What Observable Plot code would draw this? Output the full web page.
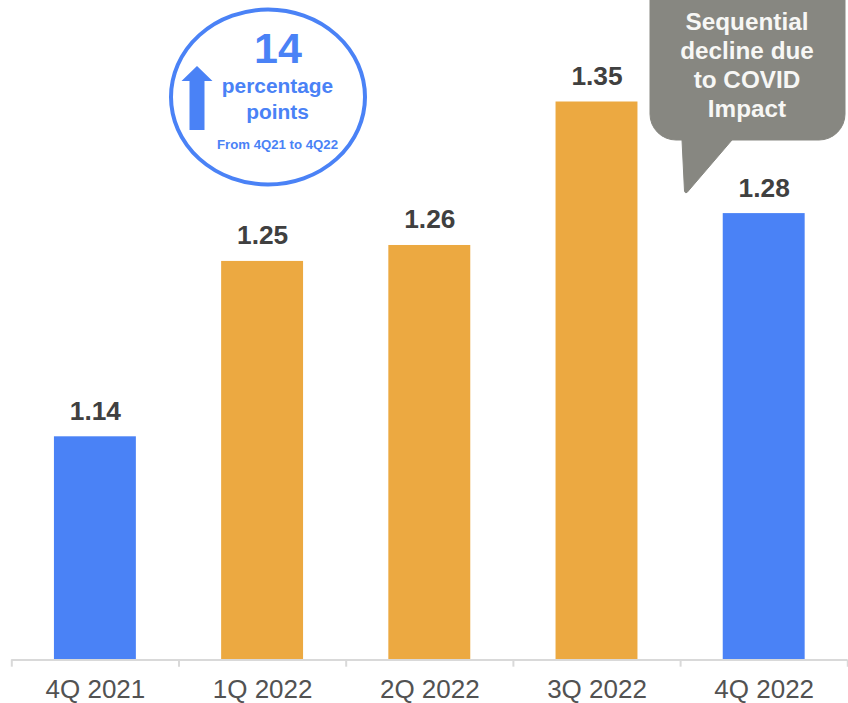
<!DOCTYPE html>
<html>
<head>
<meta charset="utf-8">
<script src="https://cdn.jsdelivr.net/npm/d3@7"></script>
<script src="https://cdn.jsdelivr.net/npm/@observablehq/plot@0.6"></script>
<style>
  html, body { margin: 0; padding: 0; background: #fff; }
  svg { display: block; }
</style>
</head>
<body>
<div id="chart"></div>
<script>
const quarters = ["4Q 2021", "1Q 2022", "2Q 2022", "3Q 2022", "4Q 2022"];
const values = [1.14, 1.25, 1.26, 1.35, 1.28];
const endpoints = ["4Q 2021", "4Q 2022"];
const calloutLines = ["Sequential", "decline due", "to COVID", "Impact"];

const rows = quarters.map((quarter, i) => ({quarter, value: values[i]}));
const BLUE = "#4a82f6";
const ORANGE = "#eca941";
const GREY = "#878781";
const FONT = "'Liberation Sans', Arial, sans-serif";
const BASE = 1.0;
const halfStep = 83.6;

// Badge in the upper left: ellipse, up arrow and the change in percentage points.
function badge() {
  const g = d3.create("svg:g").attr("font-family", FONT).attr("font-weight", "bold").attr("fill", BLUE).attr("text-anchor", "middle");
  g.append("ellipse").attr("cx", 268).attr("cy", 97).attr("rx", 97).attr("ry", 87.5)
    .attr("fill", "none").attr("stroke", BLUE).attr("stroke-width", 4);
  g.append("path").attr("d", "M197 66L212.5 81H204.5V130H189.5V81H181.5Z");
  const lines = [["14", 278, 63, 43], ["percentage", 277.5, 93, 20.9], ["points", 277.5, 119, 20.9], ["From 4Q21 to 4Q22", 277.5, 148.5, 13.2]];
  for (const [t, x, y, size] of lines) {
    g.append("text").attr("x", x).attr("y", y).attr("font-size", size).text(t);
  }
  return g.node();
}

// Speech bubble pointing at the last bar; its top runs off the frame.
function bubble() {
  const g = d3.create("svg:g").attr("font-family", FONT).attr("font-weight", "bold").attr("text-anchor", "middle");
  g.append("path").attr("fill", GREY).attr("stroke", GREY).attr("stroke-linejoin", "round").attr("stroke-width", 1)
    .attr("d", "M650 -20H845V114A26 26 0 0 1 819 140H732L687 192.5Q685 193.5 684.5 191L682 140H676A26 26 0 0 1 650 114Z");
  calloutLines.forEach((t, i) => {
    g.append("text").attr("x", 747).attr("y", 30 + i * 28.9).attr("font-size", 24.3).attr("fill", "#f7f7f5").text(t);
  });
  return g.node();
}

const chart = Plot.plot({
  width: 848,
  height: 703,
  marginTop: 0,
  marginRight: 0.7,
  marginBottom: 43.5,
  marginLeft: 11.3,
  style: {background: "#fff", fontFamily: FONT},
  x: {domain: quarters, paddingInner: 0.51, paddingOuter: 0.255, round: false, label: null},
  y: {domain: [BASE, 1.35], range: [659.5, 101.5], label: null, axis: null},
  marks: [
    Plot.barY(rows, {x: "quarter", y1: BASE, y2: "value", fill: d => endpoints.includes(d.quarter) ? BLUE : ORANGE}),
    Plot.ruleY([BASE], {stroke: "#d9d9d9", strokeWidth: 2}),
    Plot.ruleX(quarters, {x: d => d, y1: BASE, y2: 0.9955, dx: -halfStep, stroke: "#d9d9d9", strokeWidth: 2}),
    Plot.ruleX(quarters.slice(-1), {x: d => d, y1: BASE, y2: 0.9955, dx: halfStep, stroke: "#d9d9d9", strokeWidth: 2}),
    Plot.axisX({tickSize: 0, tickPadding: 19.3, fontSize: 26, color: "#525252", label: null}),
    Plot.text(rows, {x: "quarter", y: "value", text: d => d.value.toFixed(2), dy: -25.5, fontSize: 26.3, fontWeight: "bold", fill: "#404040"}),
    badge,
    bubble
  ]
});
document.getElementById("chart").append(chart);
</script>
</body>
</html>
